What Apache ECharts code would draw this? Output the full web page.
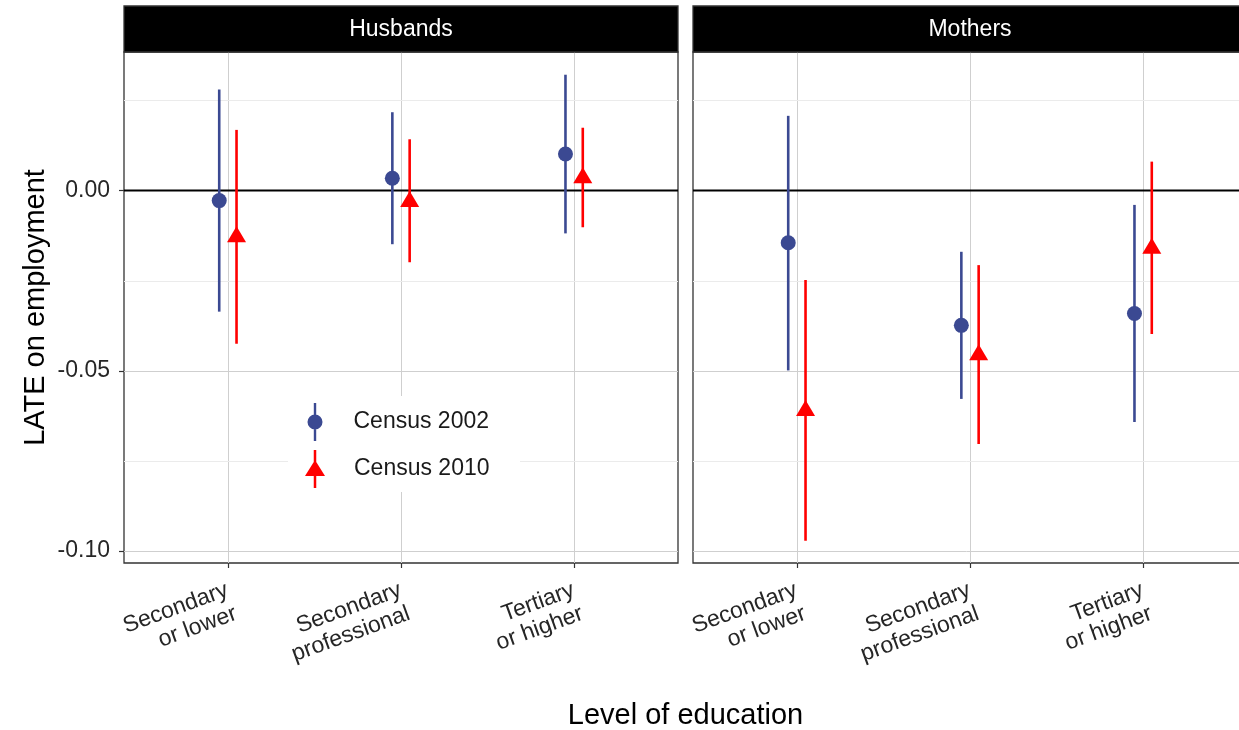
<!DOCTYPE html>
<html>
<head>
<meta charset="utf-8">
<script src="https://cdn.jsdelivr.net/npm/echarts@6/dist/echarts.min.js"></script>
<style>
html,body{margin:0;padding:0;background:#ffffff;}
#chart{width:1239px;height:730px;}
</style>
</head>
<body>
<div id="chart"></div>
<script>
// ---- data ----
const categories = ['Secondary\nor lower', 'Secondary\nprofessional', 'Tertiary\nor higher'];
const panels = ['Husbands', 'Mothers'];
const seriesNames = ['Census 2002', 'Census 2010'];
const yTickValues = [-0.10, -0.05, 0.00];
const yMinorValues = [-0.075, -0.025, 0.025];

const husbands2002Est = [-0.0028, 0.0034, 0.0101];
const husbands2002Lo  = [-0.0336, -0.0149, -0.0119];
const husbands2002Hi  = [0.0280, 0.0217, 0.0321];

const husbands2010Est = [-0.0129, -0.0031, 0.0035];
const husbands2010Lo  = [-0.0425, -0.0199, -0.0102];
const husbands2010Hi  = [0.0168, 0.0142, 0.0174];

const mothers2002Est = [-0.0145, -0.0374, -0.0341];
const mothers2002Lo  = [-0.0499, -0.0578, -0.0642];
const mothers2002Hi  = [0.0207, -0.0170, -0.0040];

const mothers2010Est = [-0.0611, -0.0456, -0.0161];
const mothers2010Lo  = [-0.0971, -0.0703, -0.0398];
const mothers2010Hi  = [-0.0248, -0.0207, 0.0080];

// ---- build ----
const FONT = '"Liberation Sans", Arial, Helvetica, sans-serif';
const COLORS = {'Census 2002': '#3B4992', 'Census 2010': '#FF0000'};
const dodge = {'Census 2002': -0.05, 'Census 2010': 0.05};
const yMin = -0.1033, yMax = 0.0384;

const panelData = {
  'Husbands': {
    'Census 2002': {est: husbands2002Est, lo: husbands2002Lo, hi: husbands2002Hi},
    'Census 2010': {est: husbands2010Est, lo: husbands2010Lo, hi: husbands2010Hi}
  },
  'Mothers': {
    'Census 2002': {est: mothers2002Est, lo: mothers2002Lo, hi: mothers2002Hi},
    'Census 2010': {est: mothers2010Est, lo: mothers2010Lo, hi: mothers2010Hi}
  }
};

const gridLeft = [124, 693];
const gridTop = 52, gridW = 554, gridH = 511;
const catTicks = categories.map((c, i) => i + 1);

const grids = panels.map((p, k) => ({
  left: gridLeft[k], top: gridTop, width: gridW, height: gridH,
  show: true, backgroundColor: '#ffffff', borderColor: '#333333', borderWidth: 1.3,
  containLabel: false, outerBoundsMode: 'none'
}));

const xAxes = panels.map((p, k) => ({
  type: 'value', gridIndex: k, min: 0.4, max: 3.6,
  axisLine: {show: false, onZero: false},
  axisTick: {show: true, customValues: catTicks, length: 5, lineStyle: {color: '#333333', width: 1.2}},
  axisLabel: {
    customValues: catTicks,
    formatter: v => categories[Math.round(v) - 1],
    rotate: 20, align: 'right', verticalAlign: 'top',
    fontSize: 23, lineHeight: 25, color: '#262626', fontFamily: FONT, margin: 13,
    padding: [0, 5, 0, 0]
  },
  splitLine: {show: true, lineStyle: {color: '#cfcfcf', width: 1}}
}));

const yAxes = panels.map((p, k) => ({
  type: 'value', gridIndex: k, min: yMin, max: yMax,
  axisLine: {show: false, onZero: false},
  axisTick: {show: k === 0, customValues: yTickValues, length: 5, lineStyle: {color: '#333333', width: 1.2}},
  axisLabel: {
    show: k === 0, customValues: yTickValues,
    formatter: v => v.toFixed(2),
    fontSize: 23, color: '#262626', fontFamily: FONT, margin: 14
  },
  splitLine: {show: true, lineStyle: {color: '#cfcfcf', width: 1}},
  name: k === 0 ? 'LATE on employment' : '',
  nameLocation: 'middle', nameGap: 74,
  nameTextStyle: {fontSize: 29, color: '#000000', fontFamily: FONT}
}));

const series = [];
panels.forEach((p, k) => {
  // minor horizontal grid lines
  series.push({
    type: 'custom', xAxisIndex: k, yAxisIndex: k, silent: true, z: 1,
    data: yMinorValues.map(v => [1, v]),
    renderItem: (params, api) => {
      const cs = params.coordSys;
      const y = Math.round(api.coord([1, api.value(1)])[1]) + 0.5;
      return {type: 'line', shape: {x1: cs.x, y1: y, x2: cs.x + cs.width, y2: y},
              style: {stroke: '#ebebeb', lineWidth: 1}};
    }
  });
  // zero reference line
  series.push({
    type: 'custom', xAxisIndex: k, yAxisIndex: k, silent: true, z: 2,
    data: [[1, 0]],
    renderItem: (params, api) => {
      const cs = params.coordSys;
      const y = api.coord([1, api.value(1)])[1];
      return {type: 'line', shape: {x1: cs.x, y1: y, x2: cs.x + cs.width, y2: y},
              style: {stroke: '#000000', lineWidth: 2}};
    }
  });
  seriesNames.forEach(name => {
    const d = panelData[p][name];
    const off = dodge[name];
    series.push({
      name: name, type: 'custom', xAxisIndex: k, yAxisIndex: k, z: 3, silent: true,
      data: categories.map((c, i) => [i + 1 + off, d.lo[i], d.hi[i]]),
      encode: {x: 0, y: [1, 2]},
      renderItem: (params, api) => {
        const a = api.coord([api.value(0), api.value(1)]);
        const b = api.coord([api.value(0), api.value(2)]);
        return {type: 'line', shape: {x1: a[0], y1: a[1], x2: b[0], y2: b[1]},
                style: {stroke: COLORS[name], lineWidth: 2.6}};
      }
    });
  });
  seriesNames.forEach(name => {
    const d = panelData[p][name];
    const off = dodge[name];
    const isTri = name === 'Census 2010';
    series.push({
      name: name, type: 'scatter', xAxisIndex: k, yAxisIndex: k, z: 4, silent: true,
      data: categories.map((c, i) => [i + 1 + off, d.est[i]]),
      symbol: isTri ? 'triangle' : 'circle',
      symbolSize: isTri ? [19, 16] : 15,
      symbolOffset: isTri ? [0, -2.7] : [0, 0],
      itemStyle: {color: COLORS[name], opacity: 1}
    });
  });
});

const blueIcon = 'path://M6.3,0H8.7V12H6.3Z M6.3,26H8.7V38H6.3Z M0,19A7.5,7.5 0 1,1 15,19A7.5,7.5 0 1,1 0,19Z';
const redIcon = 'path://M8.75,0H11.25V38H8.75Z M10,10L20,26L0,26Z';

const legends = [
  {data: [{name: seriesNames[0], icon: blueIcon, itemStyle: {color: COLORS[seriesNames[0]]}}],
   left: 307.5, top: 403, itemWidth: 15, itemHeight: 38, textPadding: 26},
  {data: [{name: seriesNames[1], icon: redIcon, itemStyle: {color: COLORS[seriesNames[1]]}}],
   left: 305, top: 450, itemWidth: 20, itemHeight: 38, textPadding: 24}
].map(l => ({
  data: l.data, left: l.left, top: l.top, itemWidth: l.itemWidth, itemHeight: l.itemHeight,
  padding: 0, selectedMode: false, z: 5, orient: 'vertical',
  textStyle: {fontSize: 23, color: '#1A1A1A', fontFamily: FONT, padding: [4, 0, 0, l.textPadding]}
}));

const graphics = [
  {type: 'rect', shape: {x: 288, y: 396, width: 232, height: 96}, style: {fill: '#ffffff'}, z: 3, silent: true}
];
panels.forEach((p, k) => {
  graphics.push({type: 'rect', shape: {x: gridLeft[k], y: 6, width: gridW, height: 46},
                 style: {fill: '#000000', stroke: '#333333', lineWidth: 1.3}, z: 3, silent: true});
  graphics.push({type: 'text', x: gridLeft[k] + gridW / 2, y: 30, z: 4, silent: true,
                 style: {text: p, fill: '#ffffff', font: '23px ' + FONT, textAlign: 'center', textVerticalAlign: 'middle'}});
});
graphics.push({type: 'text', x: (gridLeft[0] + gridLeft[1] + gridW) / 2, y: 716, z: 4, silent: true,
               style: {text: 'Level of education', fill: '#000000', font: '29px ' + FONT, textAlign: 'center', textVerticalAlign: 'middle'}});

const chart = echarts.init(document.getElementById('chart'), null, {renderer: 'canvas'});
chart.setOption({
  animation: false,
  backgroundColor: '#ffffff',
  textStyle: {fontFamily: FONT},
  grid: grids,
  xAxis: xAxes,
  yAxis: yAxes,
  legend: legends,
  graphic: {elements: graphics},
  series: series
});
</script>
</body>
</html>
